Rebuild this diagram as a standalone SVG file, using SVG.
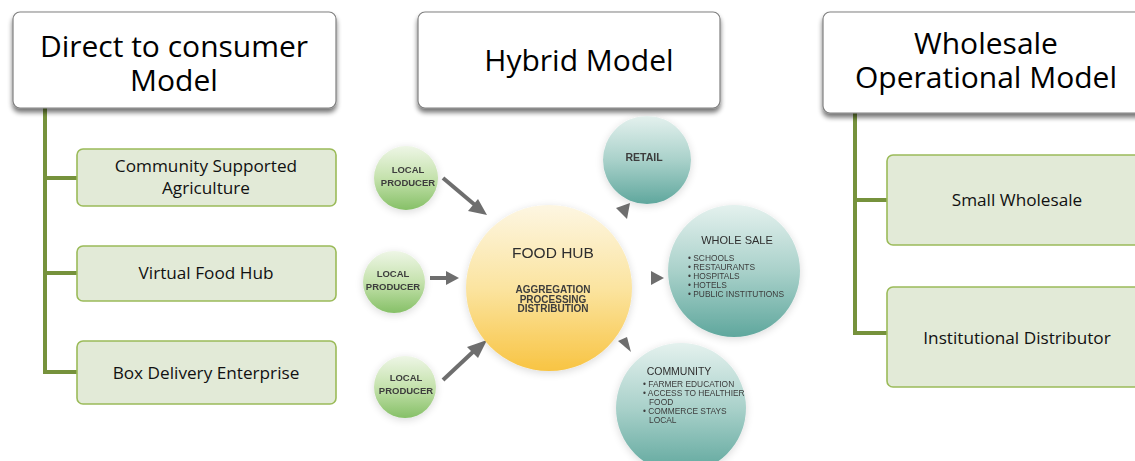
<svg xmlns="http://www.w3.org/2000/svg" width="1135" height="461" viewBox="0 0 1135 461">
  <defs>
    <style>
      .head { fill: #ffffff; stroke: #808080; stroke-width: 1.2; }
      .headtxt { font-family: "Open Sans", Lato, sans-serif; font-size: 30px; fill: #000000; text-anchor: middle; }
      .leaf { fill: #e2ead7; stroke: #9bbb59; stroke-width: 1.6; }
      .leaftxt { font-family: "Open Sans", Lato, sans-serif; font-size: 17.2px; fill: #111111; text-anchor: middle; }
      .trunk { fill: none; stroke: #76923c; stroke-width: 4; stroke-linejoin: miter; }
      .arrow { stroke: #6e6e6e; stroke-width: 4; fill: none; }
      .head-tri { fill: #6e6e6e; }
      .ctxt { font-family: "Liberation Sans", Arial, sans-serif; font-weight: bold; fill: #3c3c3c; text-anchor: middle; }
      .ntxt { font-family: "Liberation Sans", Arial, sans-serif; font-weight: normal; fill: #2e2e2e; text-anchor: middle; }
      .btxt { font-family: "Liberation Sans", Arial, sans-serif; fill: #3c3c3c; font-size: 8.4px; }
    </style>
    <filter id="shadow" x="-10%" y="-10%" width="120%" height="135%">
      <feGaussianBlur in="SourceAlpha" stdDeviation="2.5"/>
      <feOffset dx="0" dy="4" result="b"/>
      <feComponentTransfer><feFuncA type="linear" slope="0.55"/></feComponentTransfer>
      <feMerge><feMergeNode/><feMergeNode in="SourceGraphic"/></feMerge>
    </filter>
    <filter id="soft" x="-30%" y="-30%" width="160%" height="160%">
      <feGaussianBlur in="SourceAlpha" stdDeviation="4"/>
      <feOffset dx="0" dy="2"/>
      <feComponentTransfer><feFuncA type="linear" slope="0.15"/></feComponentTransfer>
      <feMerge><feMergeNode/><feMergeNode in="SourceGraphic"/></feMerge>
    </filter>
    <linearGradient id="gGreen" x1="0" y1="0" x2="0" y2="1">
      <stop offset="0" stop-color="#eef6e6"/>
      <stop offset="0.5" stop-color="#c5e2ad"/>
      <stop offset="1" stop-color="#86c067"/>
    </linearGradient>
    <linearGradient id="gHub" x1="0" y1="0" x2="0" y2="1">
      <stop offset="0" stop-color="#fdf6e2"/>
      <stop offset="0.5" stop-color="#fbe4a0"/>
      <stop offset="1" stop-color="#f8c443"/>
    </linearGradient>
    <linearGradient id="gTeal" x1="0" y1="0" x2="0" y2="1">
      <stop offset="0" stop-color="#e4f1ee"/>
      <stop offset="0.5" stop-color="#a9d1ca"/>
      <stop offset="1" stop-color="#5fa79d"/>
    </linearGradient>
  </defs>

  <rect width="1135" height="461" fill="#ffffff"/>

  <!-- connectors: tree trunks and branches -->
  <g id="connectors">
    <path class="trunk" d="M45 108 V372 H78 M45 178 H78 M45 273 H78"/>
    <path class="trunk" d="M855 113 V333 H888 M855 200 H888"/>
    <!-- producer arrows into the hub -->
    <line class="arrow" x1="443" y1="178" x2="475" y2="205"/>
    <polygon class="head-tri" points="487,215 468,211 478,199"/>
    <line class="arrow" x1="430" y1="278" x2="447" y2="278"/>
    <polygon class="head-tri" points="459,278 446,271 446,285"/>
    <line class="arrow" x1="443" y1="380" x2="475" y2="350"/>
    <polygon class="head-tri" points="487,340 478,358 467,347"/>
    <!-- hub outputs -->
    <polygon class="head-tri" points="630,203 616,208 627,219"/>
    <polygon class="head-tri" points="664,278 651,271 651,285"/>
    <polygon class="head-tri" points="631,352 618,341 627,337"/>
  </g>

  <!-- Direct to consumer branch -->
  <g id="direct-model">
    <rect class="head" x="13" y="12" width="323" height="96" rx="7" filter="url(#shadow)"/>
    <text class="headtxt"><tspan x="174" y="57">Direct to consumer</tspan><tspan x="174" y="91">Model</tspan></text>
  </g>
  <g id="csa">
    <rect class="leaf" x="77" y="149" width="259" height="57" rx="6"/>
    <text class="leaftxt"><tspan x="206" y="172">Community Supported</tspan><tspan x="206" y="194">Agriculture</tspan></text>
  </g>
  <g id="virtual-hub">
    <rect class="leaf" x="77" y="246" width="259" height="55" rx="6"/>
    <text class="leaftxt" x="206" y="279">Virtual Food Hub</text>
  </g>
  <g id="box-delivery">
    <rect class="leaf" x="77" y="341" width="259" height="63" rx="6"/>
    <text class="leaftxt" x="206" y="379">Box Delivery Enterprise</text>
  </g>

  <!-- Hybrid branch -->
  <g id="hybrid-model">
    <rect class="head" x="418" y="12" width="302" height="96" rx="7" filter="url(#shadow)"/>
    <text class="headtxt" x="579" y="71">Hybrid Model</text>
  </g>

  <g id="producer-1" filter="url(#soft)">
    <circle cx="406" cy="178" r="32" fill="url(#gGreen)"/>
    <text class="ctxt" font-size="9.5"><tspan x="408" y="173">LOCAL</tspan><tspan x="408" y="186">PRODUCER</tspan></text>
  </g>
  <g id="producer-2" filter="url(#soft)">
    <circle cx="394" cy="282" r="31" fill="url(#gGreen)"/>
    <text class="ctxt" font-size="9.5"><tspan x="393" y="277">LOCAL</tspan><tspan x="393" y="290">PRODUCER</tspan></text>
  </g>
  <g id="producer-3" filter="url(#soft)">
    <circle cx="405" cy="387" r="31" fill="url(#gGreen)"/>
    <text class="ctxt" font-size="9.5"><tspan x="406" y="381">LOCAL</tspan><tspan x="406" y="394">PRODUCER</tspan></text>
  </g>

  <g id="food-hub" filter="url(#soft)">
    <circle cx="549" cy="288" r="83" fill="url(#gHub)"/>
    <text class="ntxt" x="553" y="258" font-size="15.5">FOOD HUB</text>
    <text class="ctxt" font-size="10"><tspan x="553" y="293">AGGREGATION</tspan><tspan x="553" y="302.5">PROCESSING</tspan><tspan x="553" y="312">DISTRIBUTION</tspan></text>
  </g>

  <g id="retail" filter="url(#soft)">
    <circle cx="647" cy="160" r="44" fill="url(#gTeal)"/>
    <text class="ctxt" x="644" y="161" font-size="10.5">RETAIL</text>
  </g>

  <g id="whole-sale" filter="url(#soft)">
    <circle cx="734" cy="271" r="66" fill="url(#gTeal)"/>
    <text class="ntxt" x="737" y="244" font-size="11">WHOLE SALE</text>
    <text class="btxt"><tspan x="688" y="261">•  SCHOOLS</tspan><tspan x="688" y="270">•  RESTAURANTS</tspan><tspan x="688" y="279">•  HOSPITALS</tspan><tspan x="688" y="288">•  HOTELS</tspan><tspan x="688" y="297">•  PUBLIC INSTITUTIONS</tspan></text>
  </g>

  <g id="community" filter="url(#soft)">
    <circle cx="681" cy="408" r="65" fill="url(#gTeal)"/>
    <text class="ntxt" x="679" y="375" font-size="10.5">COMMUNITY</text>
    <text class="btxt"><tspan x="643" y="387">•  FARMER EDUCATION</tspan><tspan x="643" y="396">•  ACCESS TO HEALTHIER</tspan><tspan x="649" y="405">FOOD</tspan><tspan x="643" y="414">•  COMMERCE STAYS</tspan><tspan x="649" y="423">LOCAL</tspan></text>
  </g>

  <!-- Wholesale branch -->
  <g id="wholesale-model">
    <rect class="head" x="823" y="12" width="330" height="101" rx="7" filter="url(#shadow)"/>
    <text class="headtxt"><tspan x="986" y="54">Wholesale</tspan><tspan x="986" y="88">Operational Model</tspan></text>
  </g>
  <g id="small-wholesale">
    <rect class="leaf" x="887" y="155" width="270" height="90" rx="6"/>
    <text class="leaftxt" x="1017" y="206">Small Wholesale</text>
  </g>
  <g id="institutional">
    <rect class="leaf" x="887" y="287" width="270" height="100" rx="6"/>
    <text class="leaftxt" x="1017" y="344">Institutional Distributor</text>
  </g>
</svg>
